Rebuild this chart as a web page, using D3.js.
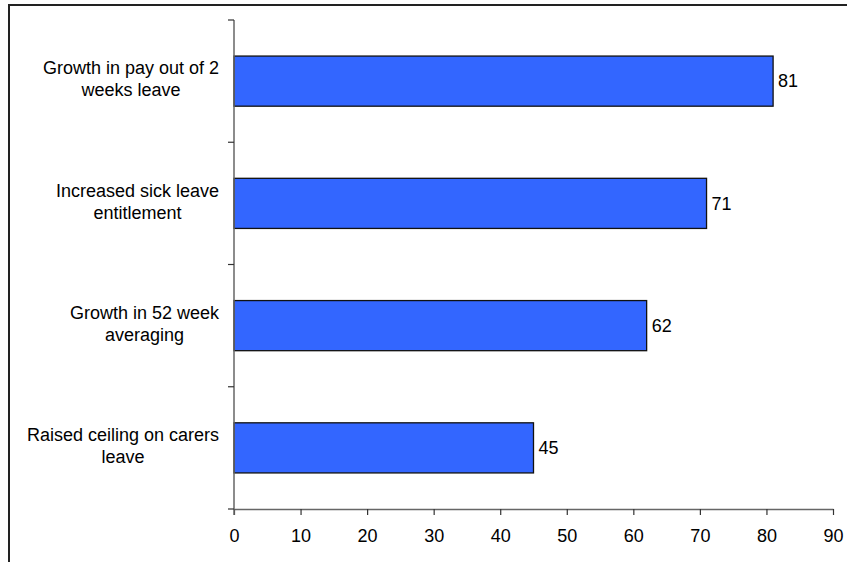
<!DOCTYPE html>
<html>
<head>
<meta charset="utf-8">
<script src="https://cdn.jsdelivr.net/npm/d3@7"></script>
<style>
  html, body { margin: 0; padding: 0; background: #fff; }
  svg { display: block; }
</style>
</head>
<body>
<svg id="chart" width="847" height="562"></svg>
<script>
// Categories (top to bottom), each split into its wrapped lines
const categories = [
  "Growth in pay out of 2 weeks leave",
  "Increased sick leave entitlement",
  "Growth in 52 week averaging",
  "Raised ceiling on carers leave"
];
const categoryLines = [
  ["Growth in pay out of 2", "weeks leave"],
  ["Increased sick leave", "entitlement"],
  ["Growth in 52 week", "averaging"],
  ["Raised ceiling on carers", "leave"]
];
const values = [81, 71, 62, 45];
const xTicks = [0, 10, 20, 30, 40, 50, 60, 70, 80, 90];

const svg = d3.select("#chart");
const font = "Liberation Sans, Arial, sans-serif";
const fontSize = 18;

const x0 = 234, x1 = 833, y0 = 20, y1 = 509;

// Outer frame
svg.append("rect")
  .attr("x", 9).attr("y", 5)
  .attr("width", 900).attr("height", 600)
  .attr("fill", "none").attr("stroke", "#222").attr("stroke-width", 2);

const x = d3.scaleLinear().domain([0, 90]).range([x0, x1]);
const y = d3.scaleBand().domain(categories).range([y0, y1]).paddingInner(0.59).paddingOuter(0.295);
const yBand = d3.scaleBand().domain(categories).range([y0, y1]);

// Bars
svg.append("g").selectAll("rect")
  .data(values)
  .join("rect")
  .attr("x", x(0))
  .attr("y", (d, i) => y(categories[i]))
  .attr("width", d => x(d) - x(0))
  .attr("height", y.bandwidth())
  .attr("fill", "#3366FF")
  .attr("stroke", "#111")
  .attr("stroke-width", 1.3);

// Value labels
svg.append("g").selectAll("text")
  .data(values)
  .join("text")
  .attr("x", d => x(d) + 5)
  .attr("y", (d, i) => y(categories[i]) + y.bandwidth() / 2)
  .attr("dy", "0.35em")
  .attr("font-family", font)
  .attr("font-size", fontSize)
  .attr("fill", "#000")
  .text(d => d);

// X axis
const xAxis = svg.append("g")
  .attr("transform", `translate(0,${y1})`)
  .call(d3.axisBottom(x).tickValues(xTicks).tickSize(6).tickSizeOuter(0).tickPadding(14));
xAxis.selectAll("text").attr("font-family", font).attr("font-size", fontSize).attr("fill", "#000");
xAxis.select(".domain").attr("stroke", "#666").attr("stroke-width", 1.5);
xAxis.selectAll(".tick line").attr("stroke", "#333").attr("stroke-width", 1.2);

// Y axis: ticks at band boundaries
const boundaries = categories.map(c => yBand(c)).concat([y1]);
const yAxisG = svg.append("g");
yAxisG.append("line")
  .attr("x1", x0).attr("x2", x0).attr("y1", y0).attr("y2", y1 + 6)
  .attr("stroke", "#666").attr("stroke-width", 1.5);
yAxisG.selectAll("line.tick")
  .data(boundaries)
  .join("line")
  .attr("class", "tick")
  .attr("x1", x0 - 6).attr("x2", x0)
  .attr("y1", d => d).attr("y2", d => d)
  .attr("stroke", "#333").attr("stroke-width", 1.2);

// Category labels: block right-aligned to the axis, lines centred within the block
const labelRight = 219;
const lineHeight = 22;
const labelG = svg.append("g")
  .attr("font-family", font)
  .attr("font-size", fontSize)
  .attr("fill", "#000");
categoryLines.forEach((lines, i) => {
  const cy = yBand(categories[i]) + yBand.bandwidth() / 2 - 2;
  const t = labelG.append("text").attr("text-anchor", "middle");
  const spans = lines.map((ln, k) => t.append("tspan")
    .attr("y", cy + (k - (lines.length - 1) / 2) * lineHeight)
    .attr("dy", "0.35em")
    .text(ln));
  const maxW = d3.max(spans, s => s.node().getComputedTextLength());
  spans.forEach(s => s.attr("x", labelRight - maxW / 2));
});
</script>
</body>
</html>
